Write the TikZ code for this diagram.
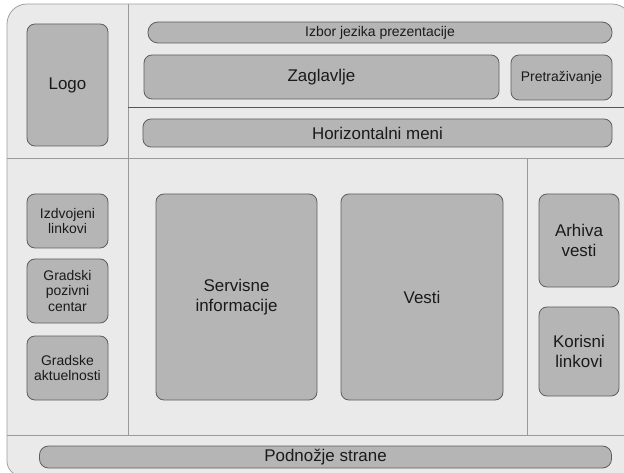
\documentclass[tikz,border=0pt]{standalone}
\usepackage{fontspec}
\setmainfont{Liberation Sans}
\begin{document}
\definecolor{pagebg}{HTML}{EAEAEA}
\definecolor{framegray}{HTML}{A0A0A0}
\definecolor{boxfill}{HTML}{B5B5B5}
\definecolor{boxline}{HTML}{5E5E5E}
\definecolor{divider}{HTML}{9A9A9A}
\definecolor{darkdivider}{HTML}{555555}
\definecolor{txt}{HTML}{1A1A1A}
\begin{tikzpicture}[x=1bp,y=-1bp,
  block/.style={draw=boxline, fill=boxfill, line width=0.8bp, rounded corners=8bp,
    inner sep=0pt, align=center, text=txt},
  big/.style={block, font=\fontsize{17}{20}\selectfont},
  small/.style={block, font=\fontsize{14}{16}\selectfont},
  sep/.style={draw=divider, line width=0.9bp},
]
\useasboundingbox (0,0) rectangle (624,473);
% page frame (runs past the right and bottom edges)
\draw[framegray, fill=pagebg, line width=0.8bp]
  (7,24) arc[start angle=180, end angle=270, radius=20] -- (612,4)
  arc[start angle=270, end angle=360, radius=20] -- (632,476) -- (22,476)
  arc[start angle=90, end angle=180, radius=15] -- cycle;
% region dividers
\coordinate (vtop) at (128,4);
\coordinate (vbot) at (128,435);
\coordinate (h1l) at (7,158);
\coordinate (h1r) at (624,158);
\coordinate (h2l) at (128,107);
\coordinate (h2r) at (624,107);
\coordinate (h3l) at (7,435);
\coordinate (h3r) at (624,435);
\coordinate (v2t) at (527,158);
\coordinate (v2b) at (527,435);
\draw[sep] (vtop) -- (vbot);
\draw[sep] (h1l) -- (h1r);
\draw[sep] (h3l) -- (h3r);
\draw[sep] (v2t) -- (v2b);
\draw[draw=darkdivider, line width=0.9bp] (h2l) -- (h2r);
% header area
\node[big, minimum width=81bp, minimum height=122bp] (logo) at (67.5,85) {Logo};
\node[small, rounded corners=10bp, minimum width=464bp, minimum height=21bp] (lang) at (380,32.5) {Izbor jezika prezentacije};
\node[big, minimum width=355bp, minimum height=44bp] (head) at (321.5,77) {Zaglavlje};
\node[small, minimum width=101bp, minimum height=45bp] (search) at (561.5,77.5) {Pretraživanje};
\node[big, minimum width=469bp, minimum height=28bp] (menu) at (377.5,133) {Horizontalni meni};
% left column
\node[small, minimum width=81bp, minimum height=54bp] (feat) at (67.5,221) {Izdvojeni\\linkovi};
\node[small, minimum width=81bp, minimum height=64bp] (call) at (67.5,291) {Gradski\\pozivni\\centar};
\node[small, minimum width=81bp, minimum height=64bp] (news) at (67.5,368) {Gradske\\aktuelnosti};
% main content
\node[big, minimum width=161bp, minimum height=206bp] (serv) at (236.5,297) {Servisne\\informacije};
\node[big, minimum width=162bp, minimum height=206bp] (vesti) at (422,297) {Vesti};
% right column
\node[big, minimum width=80bp, minimum height=93bp] (arch) at (579,240.5) {Arhiva\\vesti};
\node[big, minimum width=80bp, minimum height=89bp] (links) at (579,351.5) {Korisni\\linkovi};
% footer
\node[big, rounded corners=9bp, minimum width=572bp, minimum height=22bp] (foot) at (325.5,457) {Podnožje strane};
\end{tikzpicture}
\end{document}
